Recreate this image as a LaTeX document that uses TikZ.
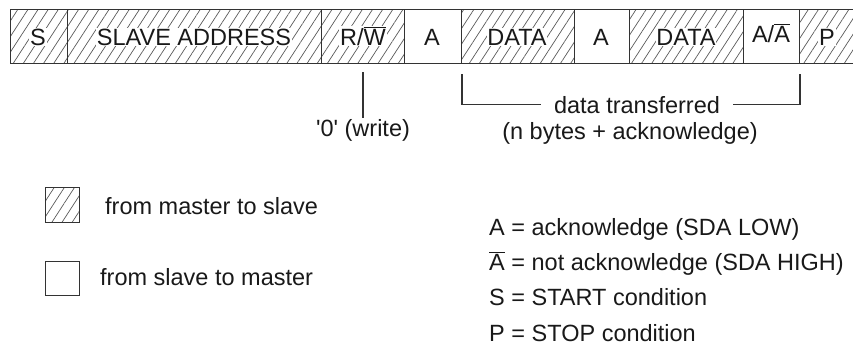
\documentclass[tikz,border=0pt]{standalone}
\usepackage{fontspec}
\setmainfont{Liberation Sans}
\usetikzlibrary{patterns.meta}
\newcommand{\ovl}[1]{$\overline{\mbox{#1}}$}
\begin{document}
\begin{tikzpicture}[x=1pt,y=-1pt,
  line/.style={draw=black!80, line width=1.1pt},
  field/.style={line, rectangle, inner sep=0pt, anchor=north west, minimum height=54pt},
  hfield/.style={field, pattern={Lines[angle=57,distance=8.5pt,line width=0.7pt]}, pattern color=black!65},
  txt/.style={font=\fontsize{23.5}{26}\selectfont, inner sep=0.8pt, text=black!90, anchor=base},
  htxt/.style={txt, fill=white},
  wtxt/.style={txt, anchor=base west, inner sep=0pt},
]
\useasboundingbox (0,0) rectangle (853,349);
% frame fields
\node[hfield, minimum width=57pt]  (fS)   at (10,9)  {};
\node[hfield, minimum width=254pt] (fAdr) at (67,9)  {};
\node[hfield, minimum width=83pt]  (fRW)  at (321,9) {};
\node[field,  minimum width=57pt]  (fA1)  at (404,9) {};
\node[hfield, minimum width=113pt] (fD1)  at (461,9) {};
\node[field,  minimum width=55pt]  (fA2)  at (574,9) {};
\node[hfield, minimum width=114pt] (fD2)  at (629,9) {};
\node[field,  minimum width=56pt]  (fA3)  at (743,9) {};
\node[hfield, minimum width=90pt]  (fP)   at (799,9) {};
% field texts
\node[htxt] (tS)   at (38,45)  {S};
\node[htxt] (tAdr) at (194,45) {SLAVE ADDRESS};
\node[htxt] (tRW)  at (363,45) {R/\ovl{W}};
\node[txt]  (tA1)  at (432,45) {A};
\node[htxt] (tD1)  at (517,45) {DATA};
\node[txt]  (tA2)  at (601,45) {A};
\node[htxt] (tD2)  at (686,45) {DATA};
\node[txt]  (tA3)  at (771,42) {A/\ovl{A}};
\node[htxt] (tP)   at (827,45) {P};
% annotations below
\coordinate (rwtop) at (363,72);
\node[txt] (wr) at (363,136) {\textquotesingle0\textquotesingle\ (write)};
\draw[line] (rwtop) -- (wr.north) ;
\coordinate (bl) at (462,74);
\coordinate (br) at (800,74);
\node[txt, inner xsep=13pt] (dt) at (637,113) {data transferred};
\node[txt] (nb) at (630,139) {(n bytes + acknowledge)};
\draw[line] (bl) |- (dt.west);
\draw[line] (br) |- (dt.east);
% legend
\node[hfield, minimum width=34pt, minimum height=35pt] (lm) at (45,187) {};
\node[field,  minimum width=34pt, minimum height=34pt] (ls) at (45,261) {};
\node[wtxt] (lmt) at (105,214) {from master to slave};
\node[wtxt] (lst) at (100,285) {from slave to master};
\node[wtxt] (k1) at (489,235) {A = acknowledge (SDA LOW)};
\node[wtxt] (k2) at (489,270) {\ovl{A} = not acknowledge (SDA HIGH)};
\node[wtxt] (k3) at (489,305) {S = START condition};
\node[wtxt] (k4) at (489,341) {P = STOP condition};
\end{tikzpicture}
\end{document}
